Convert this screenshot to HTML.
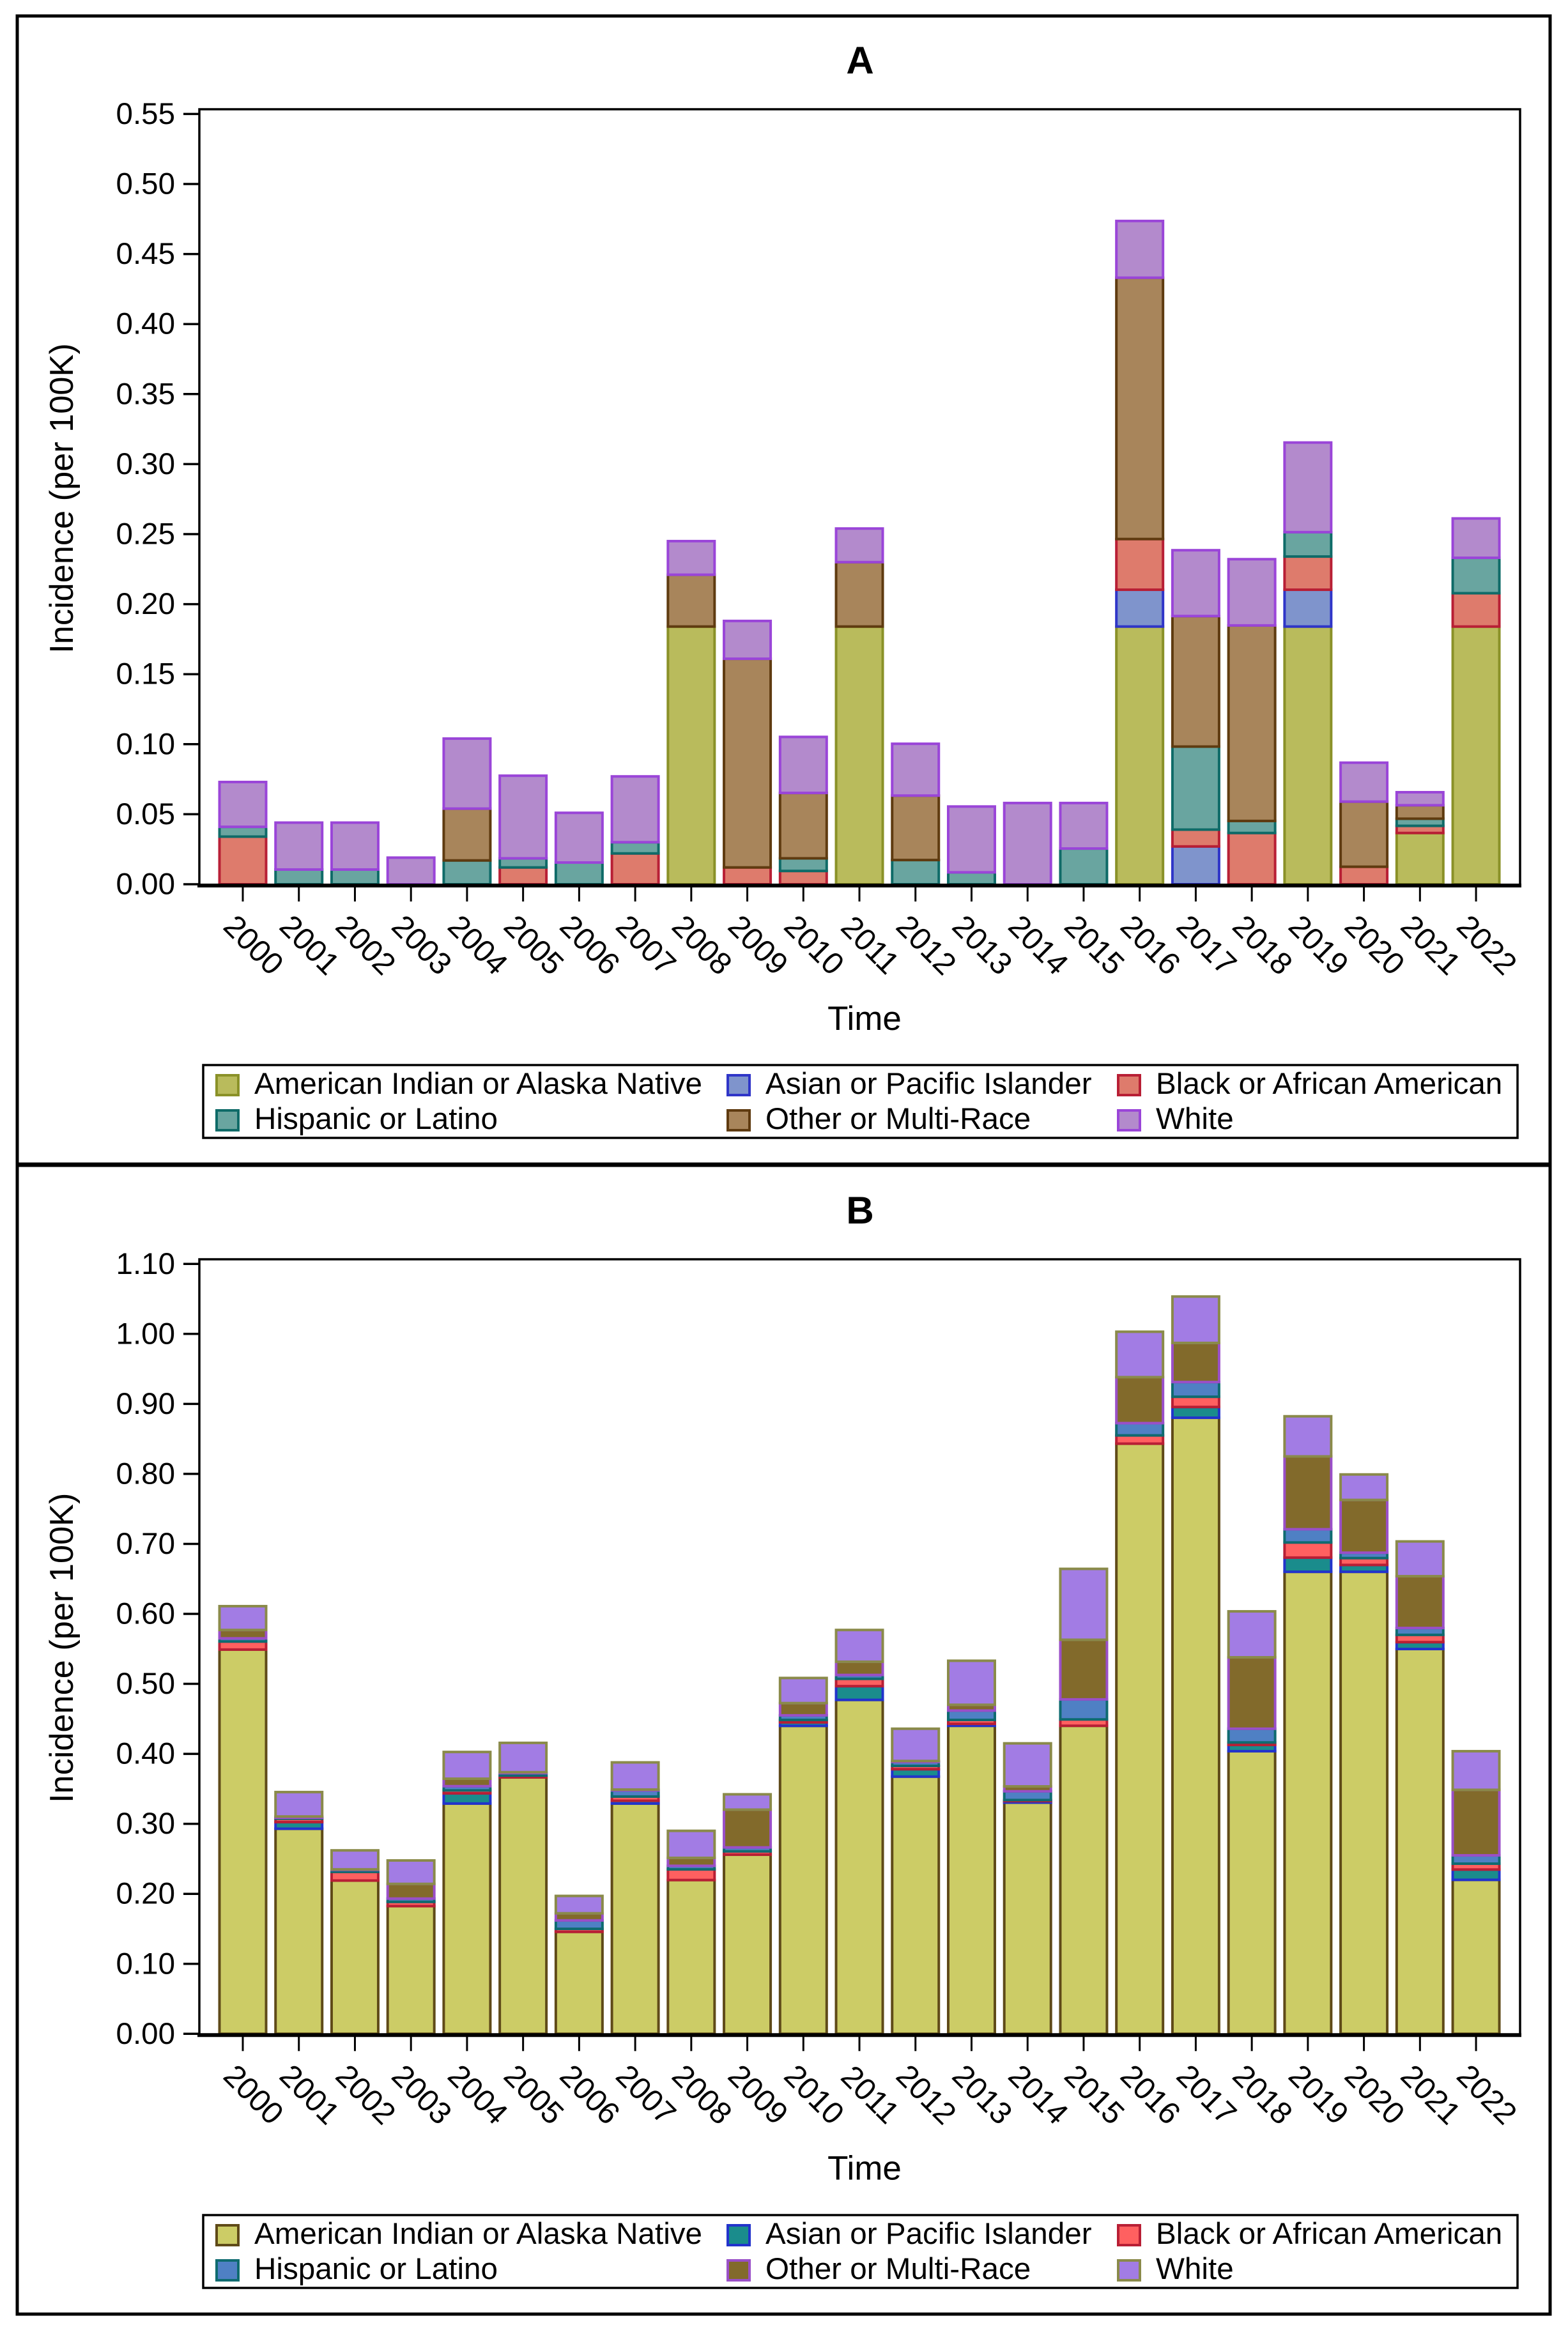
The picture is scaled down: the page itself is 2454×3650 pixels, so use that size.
<!DOCTYPE html>
<html lang="en">
<head>
<meta charset="utf-8">
<title>Incidence per 100K by race and ethnicity, 2000-2022</title>
<style>
html,body{margin:0;padding:0;background:#fff;width:2454px;height:3650px;overflow:hidden}
svg{display:block;font-family:"Liberation Sans",Arial,sans-serif;fill:#000}
</style>
</head>
<body>
<svg id="chart" xmlns="http://www.w3.org/2000/svg" width="2454" height="3650" viewBox="0 0 2454 3650">
  <rect x="0" y="0" width="2454" height="3650" fill="#fff"/>
  <rect x="27" y="25" width="2399" height="3597" fill="none" stroke="#000" stroke-width="5"/>
  <line x1="27" x2="2426" y1="1823" y2="1823" stroke="#000" stroke-width="7"/>
</svg>
<script>
const years = ["2000","2001","2002","2003","2004","2005","2006","2007","2008","2009","2010","2011","2012","2013","2014","2015","2016","2017","2018","2019","2020","2021","2022"];
const seriesNames = ["American Indian or Alaska Native","Asian or Pacific Islander","Black or African American","Hispanic or Latino","Other or Multi-Race","White"];

const yTicksA = [0,0.05,0.10,0.15,0.20,0.25,0.30,0.35,0.40,0.45,0.50,0.55];
const aianA = [0,0,0,0,0,0,0,0,0.184,0,0,0.184,0,0,0,0,0.184,0,0,0.184,0,0.0366,0.184];
const apiA = [0,0,0,0,0,0,0,0,0,0,0,0,0,0,0,0,0.0263,0.027,0,0.0263,0,0,0];
const blackA = [0.034,0,0,0,0,0.012,0,0.022,0,0.012,0.0095,0,0,0,0,0,0.0362,0.012,0.0366,0.0237,0.0125,0.0051,0.0238];
const hispanicA = [0.007,0.0105,0.0105,0,0.017,0.0065,0.0155,0.008,0,0,0.009,0,0.0173,0.0085,0,0.0255,0,0.0593,0.0086,0.0174,0,0.0051,0.0253];
const otherA = [0,0,0,0,0.037,0,0,0,0.037,0.149,0.0467,0.046,0.046,0,0,0,0.1866,0.0932,0.1396,0,0.0465,0.0096,0];
const whiteA = [0.032,0.0335,0.0335,0.019,0.05,0.059,0.0355,0.047,0.024,0.027,0.04,0.024,0.037,0.047,0.058,0.0325,0.0405,0.047,0.0473,0.064,0.0278,0.0093,0.0281];

const yTicksB = [0,0.10,0.20,0.30,0.40,0.50,0.60,0.70,0.80,0.90,1.00,1.10];
const aianB = [0.549,0.293,0.219,0.1825,0.329,0.3664,0.1457,0.329,0.2197,0.256,0.44,0.4771,0.3675,0.4401,0.3304,0.4401,0.8432,0.8802,0.4038,0.6601,0.6601,0.5498,0.22];
const apiB = [0,0.0095,0,0,0.0146,0,0,0.004,0,0,0.005,0.0196,0.0105,0.0028,0.0021,0,0,0.0154,0.009,0.0203,0.0098,0.0098,0.0147];
const blackB = [0.0115,0.0048,0.0124,0.006,0.0042,0.0026,0.0043,0.006,0.0153,0.0047,0.0035,0.0105,0.0048,0.0056,0.0015,0.0091,0.0118,0.0146,0.0035,0.0216,0.0098,0.0104,0.0084];
const hispanicB = [0.0045,0.0014,0.0028,0.0047,0.006,0.0034,0.012,0.0088,0.005,0.0056,0.0065,0.0055,0.0056,0.0133,0.0125,0.0286,0.0175,0.021,0.0196,0.0189,0.0077,0.0098,0.0119];
const otherB = [0.012,0.0018,0.0008,0.021,0.0107,0.0014,0.0102,0.0012,0.0114,0.054,0.0175,0.0189,0.0014,0.0083,0.007,0.0852,0.0657,0.0559,0.102,0.1041,0.0754,0.074,0.0936];
const whiteB = [0.034,0.0349,0.0271,0.0335,0.0382,0.0419,0.0248,0.0388,0.0386,0.0219,0.0359,0.0454,0.0461,0.0629,0.0615,0.1013,0.0649,0.0663,0.0657,0.0573,0.0364,0.0497,0.0552];

const svg = document.getElementById('chart');
const NS = 'http://www.w3.org/2000/svg';
function add(parent, tag, attrs, text) {
  const el = document.createElementNS(NS, tag);
  for (const k in attrs) el.setAttribute(k, attrs[k]);
  if (text !== undefined) el.textContent = text;
  parent.appendChild(el);
  return el;
}
function slug(s) { return s.toLowerCase().replace(/[^a-z0-9]+/g, '-'); }

function drawPanel(cfg) {
  const yScale = v => cfg.y0 - v * cfg.pxPerUnit;
  const xScale = i => 380 + i * 87.73;

  const panel = add(svg, 'g', {});
  
  

  const title = add(panel, 'text', {x: 1346, y: cfg.titleY, 'text-anchor': 'middle', 'font-size': 60, 'font-weight': 'bold'}, cfg.title);
  
  

  const frame = add(panel, 'rect', {x: 312, y: cfg.frameTop, width: 2067, height: cfg.y0 - cfg.frameTop + 2, fill: 'none', stroke: '#000', 'stroke-width': 3.5});
  
  

  const bars = add(panel, 'g', {});
  
  
  const halfW = 36.5;
  years.forEach((yr, i) => {
    let base = 0;
    cfg.series.forEach((vals, s) => {
      const v = vals[i];
      if (!v) return;
      const top = base + v;
      const y1 = yScale(top), y2 = yScale(base);
      const r = add(bars, 'rect', {x: xScale(i) - halfW, y: y1, width: halfW * 2, height: y2 - y1, fill: cfg.fills[s], stroke: cfg.strokes[s], 'stroke-width': 4});
      
      
      base = top;
    });
  });

  const baseline = add(panel, 'line', {x1: 309, x2: 2381, y1: cfg.y0 + 2, y2: cfg.y0 + 2, stroke: '#000', 'stroke-width': 6});
  
  

  cfg.yTicks.forEach(v => {
    const y = yScale(v);
    const t = add(panel, 'line', {x1: 287, x2: 312, y1: y, y2: y, stroke: '#000', 'stroke-width': 3.5});
    
    
    const l = add(panel, 'text', {x: 274, y: y + 15.5, 'text-anchor': 'end', 'font-size': 47.5}, v.toFixed(2));
    
    
  });

  years.forEach((yr, i) => {
    const x = xScale(i);
    const t = add(panel, 'line', {x1: x, x2: x, y1: cfg.y0 + 4, y2: cfg.y0 + 27, stroke: '#000', 'stroke-width': 3});
    
    
    const cx = x + 17, cy = cfg.y0 + 95;
    const l = add(panel, 'text', {x: cx, y: cy + 16.5, 'text-anchor': 'middle', 'font-size': 48.5, transform: 'rotate(45 ' + cx + ' ' + cy + ')'}, yr);
    
    
  });

  const yTitle = add(panel, 'text', {x: 0, y: 0, 'text-anchor': 'middle', 'font-size': 52.3, transform: 'translate(114 ' + (cfg.y0 - 604) + ') rotate(-90)'}, 'Incidence (per 100K)');
  
  

  const xTitle = add(panel, 'text', {x: 1353, y: cfg.y0 + 228, 'text-anchor': 'middle', 'font-size': 53}, 'Time');
  
  

  const legend = add(panel, 'g', {});
  
  
  const box = add(legend, 'rect', {x: 318, y: cfg.legendTop, width: 2057, height: 114, fill: '#fff', stroke: '#000', 'stroke-width': 3.5});
  
  
  const colSwatch = [337, 1137, 1748];
  const colText = [398, 1198, 1809];
  seriesNames.forEach((name, s) => {
    const row = Math.floor(s / 3), col = s % 3;
    const top = cfg.legendTop + 14 + row * 55;
    const entry = add(legend, 'g', {});
    
    
    const sw = add(entry, 'rect', {x: colSwatch[col] + 2, y: top + 2, width: 34, height: 31, fill: cfg.fills[s], stroke: cfg.strokes[s], 'stroke-width': 4});
    
    
    const tx = add(entry, 'text', {x: colText[col], y: top + 31, 'font-size': 47.6}, name);
    
    
  });
}

drawPanel({
  id: 'a', title: 'A', titleY: 115, frameTop: 171, y0: 1384, pxPerUnit: 2192, legendTop: 1667,
  yTicks: yTicksA,
  series: [aianA, apiA, blackA, hispanicA, otherA, whiteA],
  fills: ['#b9bb5c','#7f94cc','#de7b6c','#69a5a0','#a8855b','#b38acc'],
  strokes: ['#8a9128','#2f35c8','#b81f35','#0f6b68','#5f3b10','#9a45d8']
});
drawPanel({
  id: 'b', title: 'B', titleY: 1915, frameTop: 1971, y0: 3183.3, pxPerUnit: 1095.5, legendTop: 3467,
  yTicks: yTicksB,
  series: [aianB, apiB, blackB, hispanicB, otherB, whiteB],
  fills: ['#cccc66','#1a8c8c','#ff6060','#4f80c4','#826a2b','#a27ce4'],
  strokes: ['#5f4a18','#2233cc','#b81f35','#0f6b70','#9a4fc8','#8a8a4a']
});
</script>
</body>
</html>
